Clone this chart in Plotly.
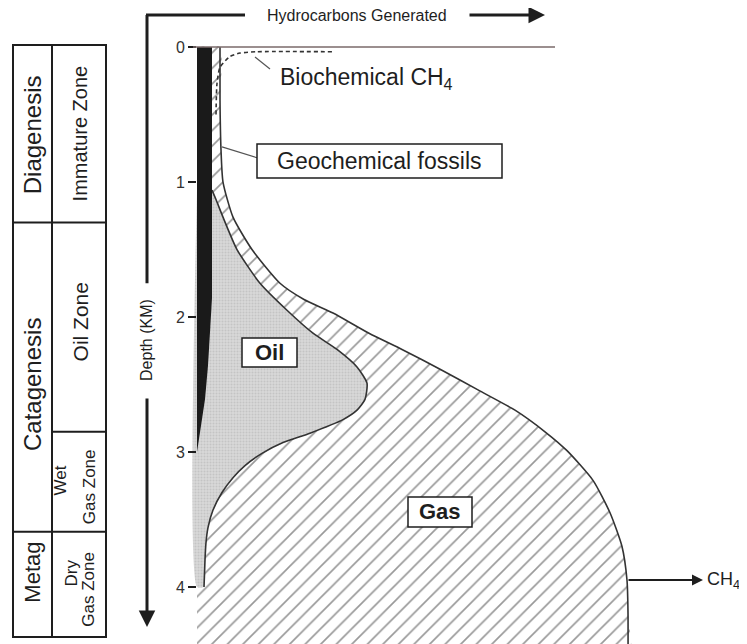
import plotly.graph_objects as go

FONT = "Liberation Sans, Arial, sans-serif"
INK = "#1e1e1e"

# ---- depth axis (km) and generation axis (relative units, 0 at depth axis) ----
depth_ticks = [0, 1, 2, 3, 4]
depth_range = [4.422, -0.289]
gen_range = [-189, 550]

# total gas envelope (outer curve)
gas_depth = [0.00, 0.39, 0.76, 1.00, 1.26, 1.50, 1.75, 1.87, 1.97, 2.12, 2.24, 2.39,
             2.54, 2.69, 2.85, 2.99, 3.21, 3.45, 3.70, 3.95, 4.19, 4.60]
gas_gen = [23, 23, 24, 26, 36, 55, 83, 107, 136, 172, 205, 244,
           281, 318, 348, 370, 396, 413, 425, 430, 431, 431]

# oil window boundary (inner curve)
oil_depth = [1.06, 1.13, 1.26, 1.50, 1.75, 1.95, 2.12, 2.24, 2.37, 2.49, 2.61, 2.69,
             2.76, 2.86, 2.93, 3.01, 3.10, 3.19, 3.30, 3.43, 3.56, 3.67, 3.80, 4.00]
oil_gen = [15, 19, 26, 40, 63, 90, 116, 140, 160, 170, 168, 160,
           146, 113, 86, 65, 48, 36, 25, 16, 11, 9, 8, 7]

# geochemical fossils (black wedge, right edge)
fossil_depth = [0.0, 1.86, 2.11, 2.36, 2.61, 2.85, 3.0]
fossil_gen = [15, 15, 13, 11, 8, 3, 0]

# biochemical methane (dashed)
bio_depth = [0.50, 0.27, 0.15, 0.07, 0.045, 0.035, 0.035]
bio_gen = [19, 20, 23, 33, 43, 60, 136]

# left table
table_x = [-184, -145, -91]
table_top, table_bottom = -0.015, 4.37
stages = ["Diagenesis", "Catagenesis", "Metag"]
stage_bounds = [1.30, 3.59]
stage_label_depth = [0.65, 2.50, 3.89]
stage_font = [24, 24, 22]
zones = ["Immature Zone", "Oil Zone"]
zone_bounds = [1.30, 2.85, 3.59]
zone_label_depth = [0.64, 2.04]
zone_font = [20, 21]
small_zone_text = ["Wet", "Gas Zone", "Dry", "Gas Zone"]
small_zone_x = [-137, -108, -125, -108]
small_zone_depth = [3.21, 3.26, 3.90, 4.02]

fig = go.Figure()

# gas region (hatched)
fig.add_trace(go.Scatter(
    x=[0] + gas_gen + [0], y=[0] + gas_depth + [4.60],
    mode="lines", fill="toself", line=dict(width=0, shape="spline", smoothing=0.6),
    fillcolor="white",
    fillpattern=dict(shape="/", size=11, solidity=0.15, fgcolor="#333333", bgcolor="white"),
    hoverinfo="skip", showlegend=False))
fig.add_trace(go.Scatter(
    x=gas_gen, y=gas_depth, mode="lines",
    line=dict(color="#333", width=1.6, shape="spline", smoothing=0.6),
    hoverinfo="skip", showlegend=False))

# oil region (grey stipple)
fig.add_trace(go.Scatter(
    x=[0, 0] + oil_gen[::-1], y=[oil_depth[0], oil_depth[-1]] + oil_depth[::-1],
    mode="lines", fill="toself", line=dict(width=0, shape="spline", smoothing=0.6),
    fillcolor="#d0d0d0",
    fillpattern=dict(shape=".", size=3, solidity=0.35, fgcolor="#b0b0b0", bgcolor="#d8d8d8"),
    hoverinfo="skip", showlegend=False))
fig.add_trace(go.Scatter(
    x=oil_gen, y=oil_depth, mode="lines",
    line=dict(color="#333", width=1.6, shape="spline", smoothing=0.6),
    hoverinfo="skip", showlegend=False))

# geochemical fossils wedge
fig.add_trace(go.Scatter(
    x=[0] + fossil_gen, y=[0] + fossil_depth,
    mode="lines", fill="toself", fillcolor="#1a1a1a", line=dict(width=0),
    hoverinfo="skip", showlegend=False))

# biochemical CH4
fig.add_trace(go.Scatter(
    x=bio_gen, y=bio_depth, mode="lines",
    line=dict(color="#333", width=1.6, dash="4px,3px", shape="spline", smoothing=0.6),
    hoverinfo="skip", showlegend=False))

shapes = []
def line(x0, y0, x1, y1, w=1.5, c=INK):
    shapes.append(dict(type="line", xref="x", yref="y", x0=x0, y0=y0, x1=x1, y1=y1,
                       line=dict(color=c, width=w)))
def box(x0, y0, x1, y1, w=1.5):
    shapes.append(dict(type="rect", xref="x", yref="y", x0=x0, y0=y0, x1=x1, y1=y1,
                       line=dict(color=INK, width=w), fillcolor="white"))

# surface line
line(-4, 0, 358, 0, 1.5, "#7a6a6a")
# axis frame lines
line(-51, -0.237, 48, -0.237, 3)
line(-50, -0.237, -50, 1.75, 3)
# leader lines
line(58, 0.074, 73, 0.163, 1.2, "#555")
line(25, 0.74, 60, 0.82, 1.2, "#555")
# label boxes
box(60, 0.719, 305, 0.970)
box(45, 2.156, 100, 2.370)
box(211, 3.333, 275, 3.556)

# table
shapes.append(dict(type="rect", xref="x", yref="y", x0=table_x[0], x1=table_x[2],
                   y0=table_top, y1=table_bottom, line=dict(color=INK, width=2)))
line(table_x[1], table_top, table_x[1], table_bottom, 2)
for b in stage_bounds:
    line(table_x[0], b, table_x[1], b, 2)
for b in zone_bounds:
    line(table_x[1], b, table_x[2], b, 2)

ann = []
def text(x, y, t, size, angle=0, bold=False, xanchor="center", color=INK):
    ann.append(dict(x=x, y=y, xref="x", yref="y", text=(f"<b>{t}</b>" if bold else t),
                    showarrow=False, textangle=angle, xanchor=xanchor, yanchor="middle",
                    font=dict(family=FONT, size=size, color=color)))
def arrow(x0, y0, x1, y1, w):
    ann.append(dict(x=x1, y=y1, ax=x0, ay=y0, xref="x", yref="y", axref="x", ayref="y",
                    text="", showarrow=True, arrowhead=2, arrowsize=1.1, arrowwidth=w,
                    arrowcolor=INK, standoff=0, startstandoff=0))

mid_stage = (table_x[0] + table_x[1]) / 2
mid_zone = (table_x[1] + table_x[2]) / 2
for s, dpt, fs in zip(stages, stage_label_depth, stage_font):
    text(mid_stage, dpt, s, fs, -90)
for z, dpt, fs in zip(zones, zone_label_depth, zone_font):
    text(mid_zone + 1, dpt, z, fs, -90)
for t, x, dpt in zip(small_zone_text, small_zone_x, small_zone_depth):
    text(x, dpt, t, 17, -90)

text(160, -0.23, "Hydrocarbons Generated", 16)
text(-50, 2.17, "Depth (KM)", 16, -90)
text(81, 0.23, "Biochemical CH<sub>4</sub>", 23, xanchor="left")
text(182.5, 0.845, "Geochemical fossils", 23)
text(72.5, 2.263, "Oil", 22, bold=True)
text(243, 3.444, "Gas", 22, bold=True)
text(508, 3.95, "CH<sub>4</sub>", 18, xanchor="left")

arrow(271, -0.237, 348, -0.237, 3)
arrow(-50, 2.593, -50, 4.296, 3)
arrow(430, 3.948, 506, 3.948, 2)

fig.update_layout(
    width=739, height=636, margin=dict(l=0, r=0, t=0, b=0),
    paper_bgcolor="white", plot_bgcolor="white",
    shapes=shapes, annotations=ann, showlegend=False,
    xaxis=dict(range=gen_range, visible=False, fixedrange=True),
    yaxis=dict(range=depth_range, anchor="free", position=188 / 739, side="left",
               tickvals=depth_ticks, ticks="outside", ticklen=8, tickwidth=2,
               tickcolor=INK, showgrid=False, zeroline=False, showline=False,
               tickfont=dict(family=FONT, size=16, color="#333"), automargin=False,
               fixedrange=True),
)

fig.write_html("out.html")
